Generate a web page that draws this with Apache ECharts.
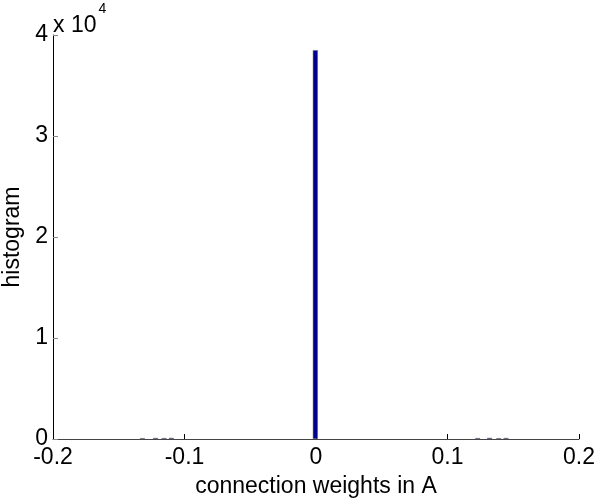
<!DOCTYPE html>
<html>
<head>
<meta charset="utf-8">
<script src="https://cdn.jsdelivr.net/npm/echarts@6/dist/echarts.min.js"></script>
<style>
html,body{margin:0;padding:0;background:#fff;}
#chart{width:598px;height:500px;}
</style>
</head>
<body>
<div id="chart"></div>
<script>
// bin centres (connection weights) and counts
var binCenters = [-0.132, -0.122, -0.1155, -0.110, -0.0005, 0.123, 0.132, 0.139, 0.1445];
var binCounts  = [80, 100, 90, 110, 38500, 90, 110, 80, 100];
var xTickLabels = ['-0.2', '-0.1', '0', '0.1', '0.2'];
var yTickLabels = ['0', '1', '2', '3', '4'];
var xAxisTitle = 'connection weights in A';
var yAxisTitle = 'histogram';
var yScaleBase = 'x 10';
var yScaleExp = '4';

var FONT = '"Liberation Sans", Arial, Helvetica, sans-serif';
var chart = echarts.init(document.getElementById('chart'), null, {renderer: 'canvas'});

var seriesData = binCenters.map(function (c, i) { return [c, binCounts[i]]; });

chart.setOption({
  backgroundColor: '#ffffff',
  animation: false,
  grid: {left: 53, right: 19, top: 35, bottom: 61, containLabel: false, outerBoundsMode: 'none'},
  xAxis: {
    type: 'value',
    min: -0.2, max: 0.2, interval: 0.1,
    name: xAxisTitle,
    nameLocation: 'middle',
    nameGap: 36,
    nameTextStyle: {fontFamily: FONT, fontSize: 23, color: '#000'},
    axisLine: {show: true, onZero: false, lineStyle: {color: '#444', width: 1}},
    axisTick: {show: true, inside: true, length: 5, lineStyle: {color: '#000'}},
    splitLine: {show: false},
    axisLabel: {
      fontFamily: FONT, fontSize: 23, color: '#000', margin: 7,
      showMinLabel: true, showMaxLabel: true,
      formatter: function (v) {
        var idx = Math.round((v + 0.2) / 0.1);
        return xTickLabels[idx] !== undefined ? xTickLabels[idx] : '';
      }
    }
  },
  yAxis: {
    type: 'value',
    min: 0, max: 40000, interval: 10000,
    name: yAxisTitle,
    nameLocation: 'middle',
    nameGap: 22,
    nameRotate: 90,
    nameTextStyle: {fontFamily: FONT, fontSize: 23, color: '#000'},
    axisLine: {show: true, onZero: false, lineStyle: {color: '#000', width: 1}},
    axisTick: {show: true, inside: true, length: 5, lineStyle: {color: '#888'}},
    splitLine: {show: false},
    axisLabel: {
      fontFamily: FONT, fontSize: 23, color: '#000', margin: 5,
      showMinLabel: true, showMaxLabel: true,
      formatter: function (v) {
        var idx = Math.round(v / 10000);
        return yTickLabels[idx] !== undefined ? yTickLabels[idx] : '';
      }
    }
  },
  graphic: [{
    type: 'text',
    left: 53,
    top: 2,
    style: {
      text: '{b|' + yScaleBase + '}{s|' + yScaleExp + '}',
      rich: {
        b: {fontFamily: FONT, fontSize: 23, fill: '#000', verticalAlign: 'bottom', padding: [12, 2, 0, 0]},
        s: {fontFamily: FONT, fontSize: 14, fill: '#000', verticalAlign: 'top', padding: [0, 0, 16, 0]}
      }
    }
  }],
  series: [{
    type: 'bar',
    data: seriesData,
    barWidth: 5,
    itemStyle: {color: '#000090', borderColor: '#666', borderWidth: 0.5},
    silent: true
  }]
});
</script>
</body>
</html>
